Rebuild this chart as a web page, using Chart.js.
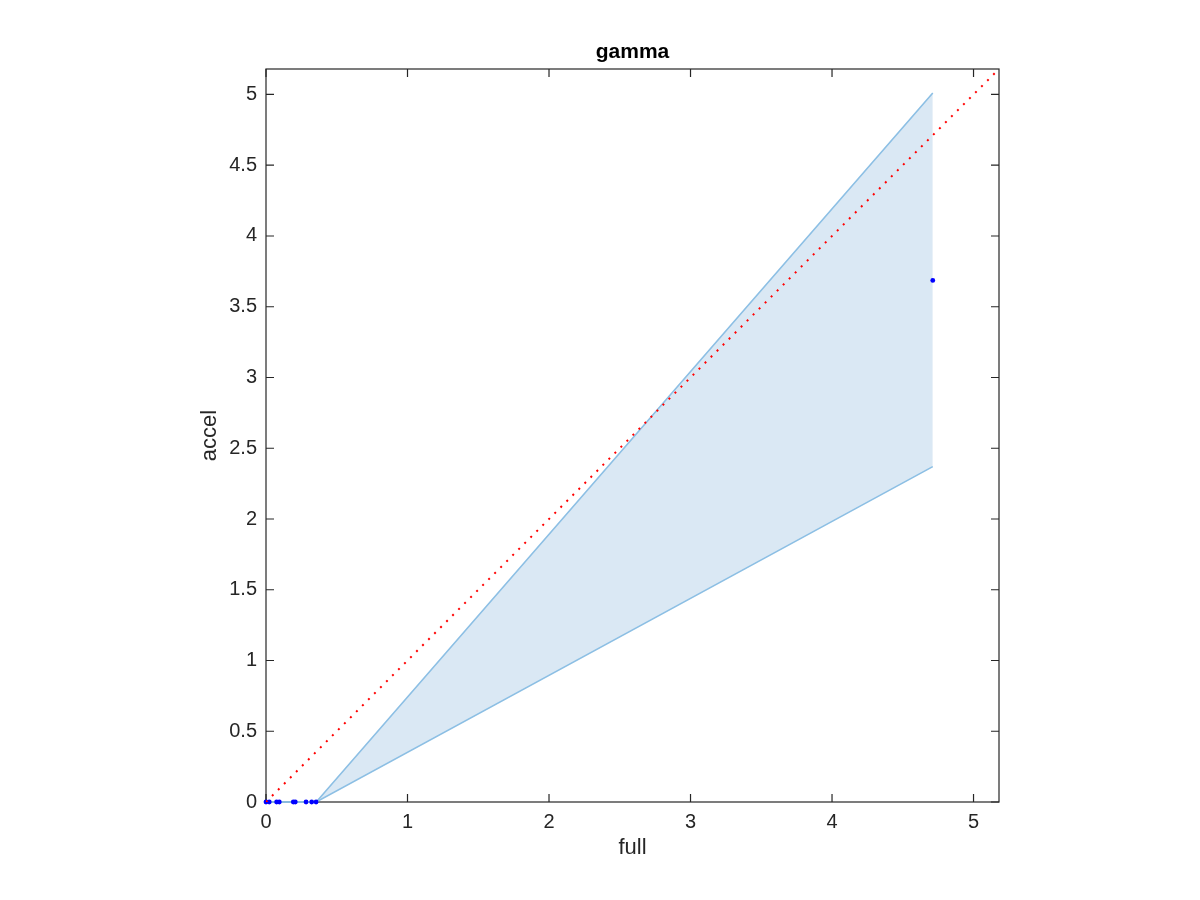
<!DOCTYPE html>
<html><head><meta charset="utf-8">
<script src="https://cdn.jsdelivr.net/npm/chart.js@4.4.1/dist/chart.umd.min.js"></script>
<style>html,body{margin:0;padding:0;background:#fff}canvas{display:block}</style>
</head><body>
<canvas id="c" width="1200" height="900"></canvas>
<script>
const bandX = [0, 0.355, 4.712];
const bandLower = [0, 0, 2.37];
const bandUpper = [0, 0, 5.01];
const pointX = [0, 0.023, 0.075, 0.094, 0.193, 0.207, 0.283, 0.323, 0.354, 4.712];
const pointY = [0, 0, 0, 0, 0, 0, 0, 0, 0, 3.686];
const diagX = [0, 5.18];
const diagY = [0, 5.18];
const axisMin = 0, axisMax = 5.18;
const xTickStep = 1, yTickStep = 0.5;

const zip = (xs, ys) => xs.map((x, i) => ({x: x, y: ys[i]}));
const FONT = '"Liberation Sans", Arial, Helvetica, sans-serif';
const AX = '#262626';

const boxPlugin = {
  id: 'boxTicks',
  beforeDatasetsDraw(chart) {
    const {ctx, chartArea: a, scales} = chart;
    ctx.save();
    ctx.strokeStyle = AX; ctx.lineWidth = 1.2;
    ctx.strokeRect(a.left, a.top, a.right - a.left, a.bottom - a.top);
    const L = 8;
    ctx.beginPath();
    scales.x.ticks.forEach(t => {
      const p = scales.x.getPixelForValue(t.value);
      ctx.moveTo(p, a.bottom); ctx.lineTo(p, a.bottom - L);
      ctx.moveTo(p, a.top); ctx.lineTo(p, a.top + L);
    });
    scales.y.ticks.forEach(t => {
      const p = scales.y.getPixelForValue(t.value);
      ctx.moveTo(a.left, p); ctx.lineTo(a.left + L, p);
      ctx.moveTo(a.right, p); ctx.lineTo(a.right - L, p);
    });
    ctx.stroke();
    ctx.restore();
  }
};

const fmt = v => String(Math.round(v * 10) / 10);

new Chart(document.getElementById('c'), {
  type: 'scatter',
  data: {
    datasets: [
      {label: 'lower', data: zip(bandX, bandLower), showLine: true, fill: '+1',
       backgroundColor: 'rgb(218,232,244)', borderColor: 'rgb(140,191,228)', borderWidth: 1.6,
       pointRadius: 0, order: 4, clip: false},
      {label: 'upper', data: zip(bandX, bandUpper), showLine: true, fill: false,
       borderColor: 'rgb(140,191,228)', borderWidth: 1.6, pointRadius: 0, order: 3, clip: false},
      {label: 'points', data: zip(pointX, pointY), showLine: false, pointStyle: 'circle',
       pointRadius: 2.4, backgroundColor: '#0000ff', borderColor: '#0000ff', borderWidth: 0,
       order: 2, clip: false},
      {label: 'diag', data: zip(diagX, diagY), showLine: true, fill: false,
       borderColor: '#ff0000', borderWidth: 2, borderDash: [2, 6.5], pointRadius: 0, order: 1}
    ]
  },
  options: {
    responsive: false, animation: false,
    layout: {padding: {left: 0, right: 201, top: 30, bottom: 0}},
    plugins: {
      legend: {display: false}, tooltip: {enabled: false},
      title: {display: true, text: 'gamma', color: '#000', fullSize: false,
        font: {family: FONT, size: 21, weight: 'bold'}, padding: {top: 9.4, bottom: 4.4}}
    },
    scales: {
      x: {type: 'linear', min: axisMin, max: axisMax,
        grid: {display: false, drawTicks: false}, border: {display: false},
        ticks: {stepSize: xTickStep, includeBounds: false, padding: 8, color: AX,
          font: {family: FONT, size: 20}, maxRotation: 0, callback: v => fmt(v)},
        title: {display: true, text: 'full', color: AX, font: {family: FONT, size: 22},
          padding: {top: 0, bottom: 38.8}},
        afterFit: s => { s.height = 98; }
      },
      y: {type: 'linear', min: axisMin, max: axisMax,
        grid: {display: false, drawTicks: false}, border: {display: false},
        ticks: {stepSize: yTickStep, includeBounds: false, padding: 9, color: AX,
          font: {family: FONT, size: 20}, callback: v => fmt(v)},
        title: {display: true, text: 'accel', color: AX, font: {family: FONT, size: 22},
          padding: {top: 196.8, bottom: 0}},
        afterFit: s => { s.width = 266; }
      }
    }
  },
  plugins: [boxPlugin]
});
</script>
</body></html>
